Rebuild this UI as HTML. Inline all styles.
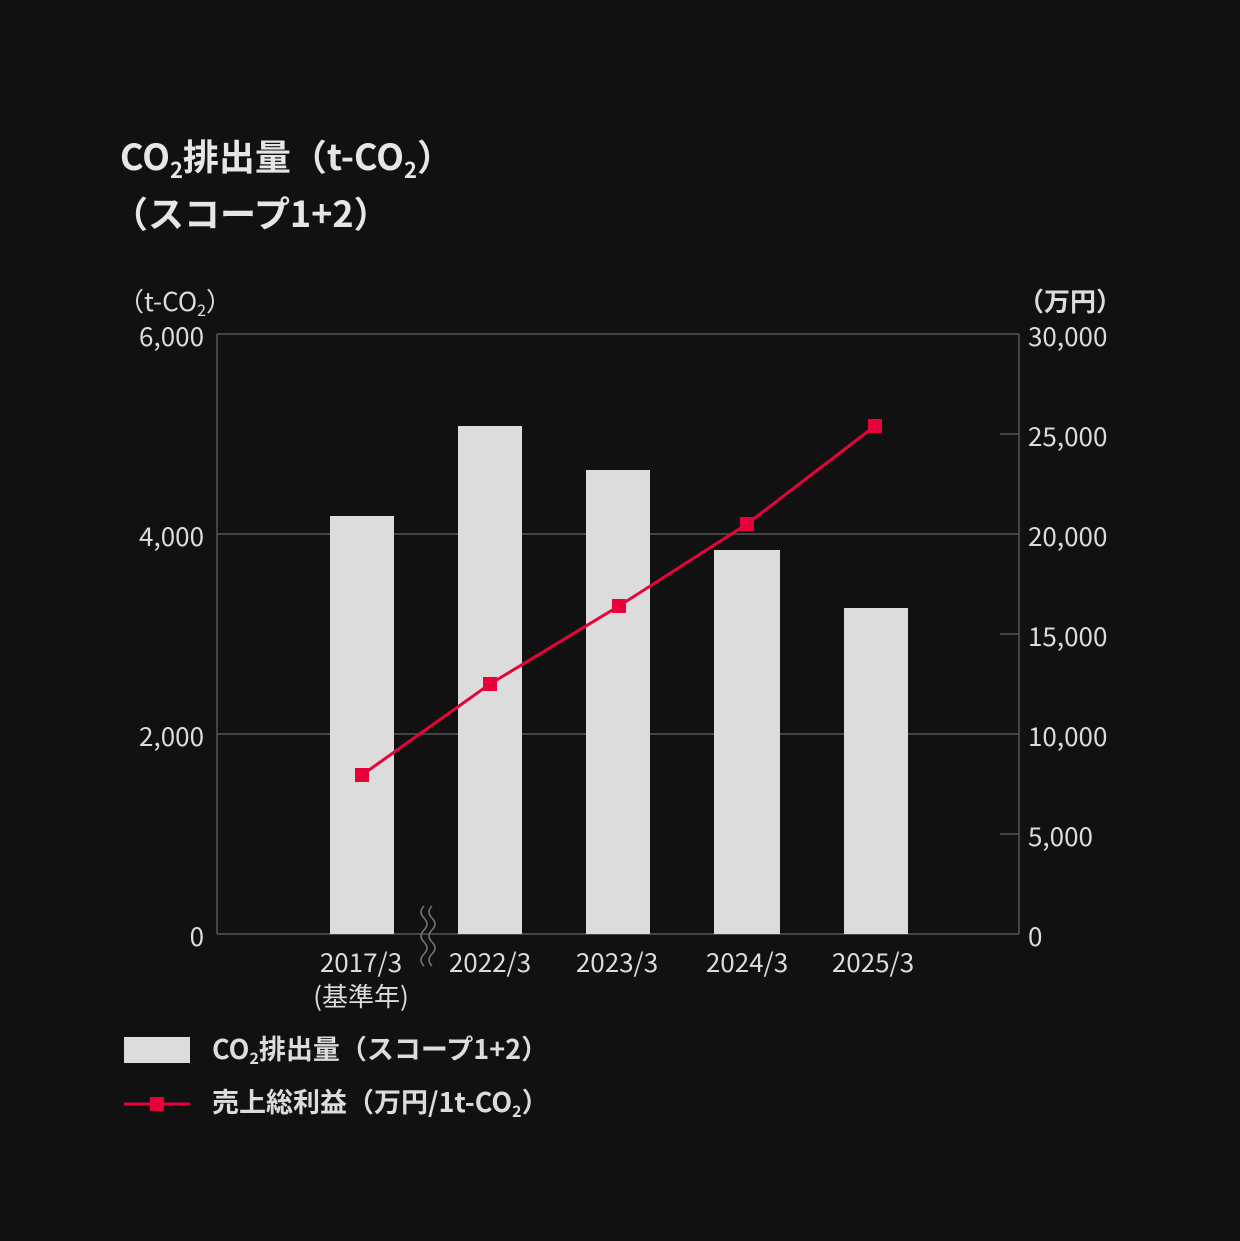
<!DOCTYPE html>
<html><head><meta charset="utf-8"><style>
body{margin:0;background:#111;}
svg{display:block;font-family:"Liberation Sans","Noto Sans CJK JP",sans-serif;}
</style></head><body>
<svg width="1240" height="1241" viewBox="0 0 1240 1241" xmlns="http://www.w3.org/2000/svg">
<rect width="1240" height="1241" fill="#111"/>
<text x="120" y="170" fill="#e6e6e6" font-size="36" font-weight="bold" font-family="Noto Sans CJK JP, sans-serif">CO<tspan font-size="22" dy="8">2</tspan><tspan dy="-8">排出量（t-CO</tspan><tspan font-size="22" dy="8">2</tspan><tspan dy="-8">）</tspan></text>
<text x="112" y="227" fill="#e6e6e6" font-size="36" font-weight="bold" font-family="Noto Sans CJK JP, sans-serif">（スコープ1+2）</text>
<g fill="#dcdcdc" font-size="26" font-family="Noto Sans CJK JP, sans-serif">
<text x="118" y="311">（t-CO<tspan font-size="16" dy="5">2</tspan><tspan dy="-5">）</tspan></text>
<text x="1018" y="311" font-weight="bold">（万円）</text>
<g text-anchor="end">
<text x="204" y="346">6,000</text><text x="204" y="546">4,000</text><text x="204" y="746">2,000</text><text x="204" y="946">0</text>
</g>
<text x="1028" y="346">30,000</text><text x="1028" y="446">25,000</text><text x="1028" y="546">20,000</text><text x="1028" y="646">15,000</text><text x="1028" y="746">10,000</text><text x="1028" y="846">5,000</text><text x="1028" y="946">0</text>
<g text-anchor="middle">
<text x="361" y="972">2017/3</text><text x="361" y="1006">(基準年)</text>
<text x="490" y="972">2022/3</text><text x="617" y="972">2023/3</text><text x="747" y="972">2024/3</text><text x="873" y="972">2025/3</text>
</g>
</g>
<g stroke="#555" stroke-width="1.5" fill="none">
<path d="M217 334H1019M217 534H1019M217 734H1019M217 934H1019M217 334V934M1019 334V934"/>
<path d="M1000 434H1019M1000 634H1019M1000 834H1019"/>
</g>
<g fill="#dcdcdc">
<rect x="330" y="516" width="64" height="418"/>
<rect x="458" y="426" width="64" height="508"/>
<rect x="586" y="470" width="64" height="464"/>
<rect x="714" y="550" width="66" height="384"/>
<rect x="844" y="608" width="64" height="326"/>
</g>
<g stroke="#777" stroke-width="1.5" fill="none">
<path d="M424 906q-6 6 0 12t0 12t0 12t0 12t0 12"/>
<path d="M432 906q-6 6 0 12t0 12t0 12t0 12t0 12"/>
</g>
<polyline points="362,775 490,684 619,606 747,524 875,426" fill="none" stroke="#e8003a" stroke-width="3"/>
<g fill="#e8003a">
<rect x="355" y="768" width="14" height="14"/><rect x="483" y="677" width="14" height="14"/><rect x="612" y="599" width="14" height="14"/><rect x="740" y="517" width="14" height="14"/><rect x="868" y="419" width="14" height="14"/>
</g>
<rect x="124" y="1037" width="66" height="26" fill="#dcdcdc"/>
<line x1="124" y1="1104" x2="190" y2="1104" stroke="#e8003a" stroke-width="3"/>
<rect x="150" y="1097" width="14" height="14" fill="#e8003a"/>
<g fill="#dcdcdc" font-size="27" font-weight="bold" font-family="Noto Sans CJK JP, sans-serif">
<text x="212" y="1059">CO<tspan font-size="16" dy="5">2</tspan><tspan dy="-5">排出量（スコープ1+2）</tspan></text>
<text x="212" y="1112">売上総利益（万円/1t-CO<tspan font-size="16" dy="5">2</tspan><tspan dy="-5">）</tspan></text>
</g>
</svg>
</body></html>
